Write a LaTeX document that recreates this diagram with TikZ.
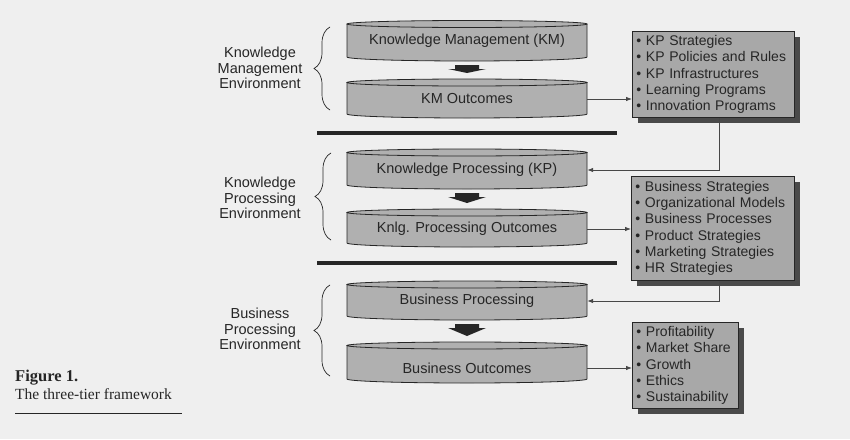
\documentclass[tikz,border=0pt]{standalone}
\usepackage{fontspec}
\setmainfont{Liberation Sans}
\newfontfamily\capfont{Liberation Serif}
\usetikzlibrary{arrows.meta,shadows,decorations.pathreplacing,calc}
\definecolor{bg}{HTML}{EFEFEF}
\definecolor{cylgray}{HTML}{B0B0B0}
\definecolor{boxgray}{HTML}{A8A8A8}
\definecolor{ink}{HTML}{262626}
\definecolor{shade}{HTML}{4A4A4A}
\tikzset{
  disktext/.style={minimum width=240pt, inner sep=0pt, text=ink, font=\fontsize{14.5}{16}\selectfont},
  diskline/.style={draw=ink, line width=0.8pt},
  envlabel/.style={align=center, text=ink, inner sep=0pt, font=\fontsize{14.5}{15.5}\selectfont},
  listbox/.style={draw=ink, fill=boxgray, line width=0.8pt, align=left, inner xsep=4pt, inner ysep=0pt,
    anchor=north west, text=ink, font=\fontsize{14}{16.3}\selectfont,
    drop shadow={shadow xshift=6pt, shadow yshift=-6pt, opacity=1, fill=shade}},
  conn/.style={draw=ink!85, line width=0.8pt, -{Latex[length=6pt,width=4.5pt]}},
  bar/.style={line width=4pt, ink},
  bracestyle/.style={draw=ink, line width=0.7pt, decorate, decoration={brace, amplitude=16pt}},
  blockarrow/.style={fill=ink}
}
% name, top y, bottom y, text y, text
\newcommand\cyldisk[5]{%
  \fill[cylgray] (347,#2+3.5) -- (347,#3-4) arc[start angle=180,end angle=360,x radius=120pt,y radius=4pt]
    -- (587,#2+3.5) arc[start angle=0,end angle=180,x radius=120pt,y radius=3.5pt] -- cycle;
  \draw[diskline] (347,#2+3.5) -- (347,#3-4) arc[start angle=180,end angle=360,x radius=120pt,y radius=4pt]
    -- (587,#2+3.5);
  \draw[diskline] (467,#2+3.5) ellipse[x radius=120pt,y radius=3.5pt];
  \coordinate (#1-top) at (467,#2);
  \coordinate (#1-bot) at (467,#3);
  \node[disktext] (#1) at (467,#4) {#5};
}
\newcommand\downblock[2]{%
  \fill[blockarrow] ($(#1-bot)+(-12,4)$) -- ($(#1-bot)+(12,4)$) -- ($(#1-bot)+(12,8)$) -- ($(#1-bot)+(19,8)$)
    -- ($(#2-top)+(0,-6)$) -- ($(#1-bot)+(-19,8)$) -- ($(#1-bot)+(-12,8)$) -- cycle;
}
\begin{document}
\begin{tikzpicture}[x=1pt,y=-1pt]
\fill[bg] (0,0) rectangle (850,439);
\useasboundingbox (0,0) rectangle (850,439);

% cylinders
\cyldisk{km}{20.5}{61}{41}{Knowledge Management (KM)}
\cyldisk{kmo}{79}{118}{99}{KM Outcomes}
\cyldisk{kp}{149}{189}{170}{Knowledge Processing (KP)}
\cyldisk{kpo}{209}{247}{229}{Knlg. Processing Outcomes}
\cyldisk{bp}{281}{320}{301}{Business Processing}
\cyldisk{bo}{342}{383}{368}{Business Outcomes}

% block arrows
\downblock{km}{kmo}
\downblock{kp}{kpo}
\downblock{bp}{bo}

% separator bars
\coordinate (bar1l) at (317,133); \coordinate (bar1r) at (617,133);
\coordinate (bar2l) at (317,263); \coordinate (bar2r) at (617,263);
\draw[bar] (bar1l) -- (bar1r);
\draw[bar] (bar2l) -- (bar2r);

% braces
\coordinate (br1a) at (330,110); \coordinate (br1b) at (330,27);
\coordinate (br2a) at (331,240); \coordinate (br2b) at (331,153);
\coordinate (br3a) at (330,376); \coordinate (br3b) at (330,285);
\draw[bracestyle] (br1a) -- (br1b);
\draw[bracestyle] (br2a) -- (br2b);
\draw[bracestyle] (br3a) -- (br3b);

% environment labels
\node[envlabel] (env1) at (260,68) {Knowledge\\Management\\Environment};
\node[envlabel] (env2) at (260,198) {Knowledge\\Processing\\Environment};
\node[envlabel] (env3) at (260,329) {Business\\Processing\\Environment};

% right boxes
\node[listbox, minimum width=162pt, minimum height=86pt, text width=154pt] (box1) at (632,31)
  {\textbullet\ KP Strategies\\\textbullet\ KP Policies and Rules\\\textbullet\ KP Infrastructures\\\textbullet\ Learning Programs\\\textbullet\ Innovation Programs};
\node[listbox, minimum width=163pt, minimum height=104pt, text width=155pt] (box2) at (631,176)
  {\textbullet\ Business Strategies\\\textbullet\ Organizational Models\\\textbullet\ Business Processes\\\textbullet\ Product Strategies\\\textbullet\ Marketing Strategies\\\textbullet\ HR Strategies};
\node[listbox, minimum width=106pt, minimum height=86pt, text width=98pt] (box3) at (632,322)
  {\textbullet\ Profitability\\\textbullet\ Market Share\\\textbullet\ Growth\\\textbullet\ Ethics\\\textbullet\ Sustainability};

% connectors
\draw[conn] (kmo.east) -- (kmo.east -| box1.west);
\draw[conn] ([xshift=6pt]box1.south) |- (kp.east);
\draw[conn] (kpo.east) -- (kpo.east -| box2.west);
\draw[conn] ([xshift=6.5pt]box2.south) |- (bp.east);
\draw[conn] (bo.east) -- (bo.east -| box3.west);

% caption
\node[anchor=west, inner sep=0pt, text=ink, font=\capfont\bfseries\fontsize{16.5}{18}\selectfont] (figlabel) at (15,378) {Figure 1.};
\node[anchor=west, inner sep=0pt, text=ink, font=\capfont\fontsize{15.5}{18}\selectfont] (figtitle) at (15,394) {The three-tier framework};
\coordinate (rulel) at (15,413); \coordinate (ruler) at (182,413);
\draw[ink, line width=0.8pt] (rulel) -- (ruler);
\end{tikzpicture}
\end{document}
